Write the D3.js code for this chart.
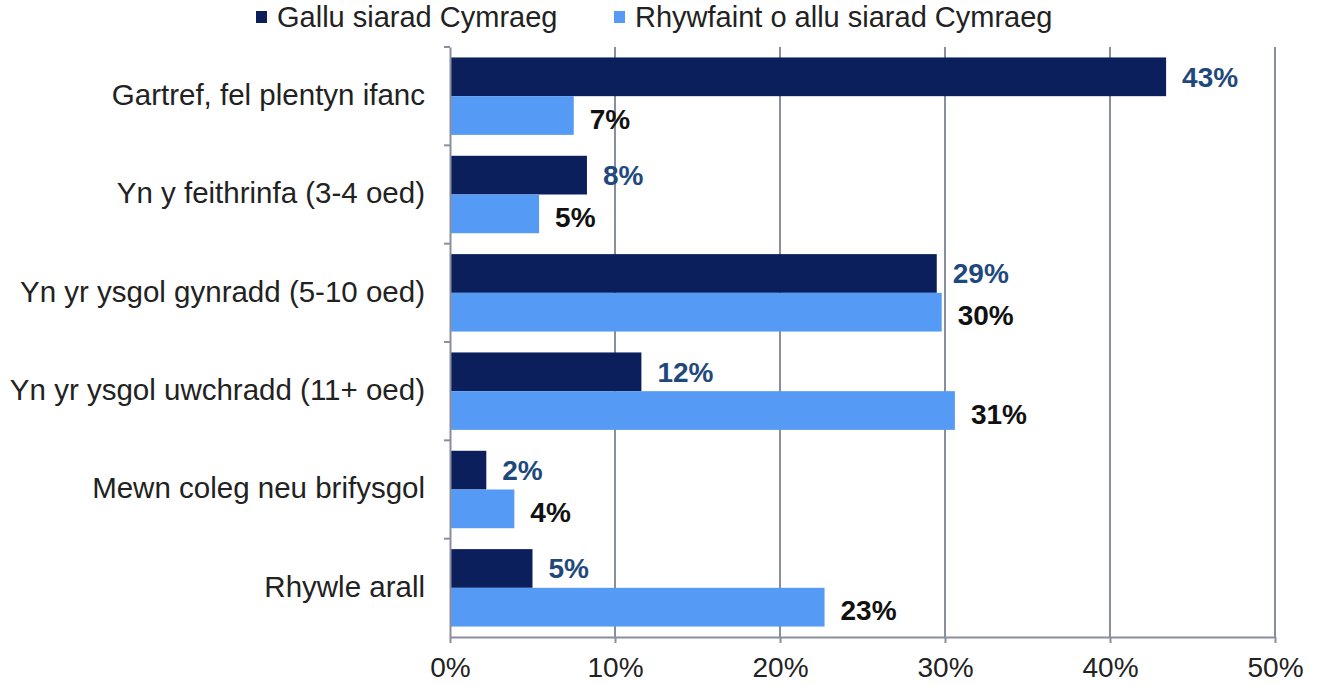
<!DOCTYPE html>
<html>
<head>
<meta charset="utf-8">
<script src="https://cdnjs.cloudflare.com/ajax/libs/d3/7.8.5/d3.min.js"></script>
<style>
  body { margin: 0; background: #fff; }
  text { font-family: "Liberation Sans", Arial, sans-serif; }
  .grid { stroke: #8b8e9c; stroke-width: 2; }
  .axis path, .axis line { stroke: #8b8e9c; stroke-width: 2; }
</style>
</head>
<body>
<div class="chart"></div>
<script>
const WIDTH = 1317;
const HEIGHT = 686;
const MARGIN = { top: 47, right: 42, bottom: 49, left: 450 };
const INNER_WIDTH = WIDTH - MARGIN.left - MARGIN.right;
const INNER_HEIGHT = HEIGHT - MARGIN.top - MARGIN.bottom;

// data
var categories = [
  "Gartref, fel plentyn ifanc",
  "Yn y feithrinfa (3-4 oed)",
  "Yn yr ysgol gynradd (5-10 oed)",
  "Yn yr ysgol uwchradd (11+ oed)",
  "Mewn coleg neu brifysgol",
  "Rhywle arall"
];
var seriesNames = ["Gallu siarad Cymraeg", "Rhywfaint o allu siarad Cymraeg"];
var gallu = [43.4, 8.3, 29.5, 11.6, 2.2, 5.0];
var rhywfaint = [7.5, 5.4, 29.8, 30.6, 3.9, 22.7];
var galluLabels = ["43%", "8%", "29%", "12%", "2%", "5%"];
var rhywfaintLabels = ["7%", "5%", "30%", "31%", "4%", "23%"];
var xTicks = [0, 10, 20, 30, 40, 50];

var colors = ["#0a1f5c", "#559bf6"];
var labelColors = ["#1f497d", "#111111"];

var translate = function(x, y) {
  return "translate(" + x + "," + y + ")";
};

var svg = d3.select(".chart").append("svg")
  .attr("width", WIDTH)
  .attr("height", HEIGHT);

var g = svg.append("g").attr("transform", translate(MARGIN.left, MARGIN.top));

var xScale = d3.scaleLinear().domain([0, 50]).range([0, INNER_WIDTH]);
var yScale = d3.scaleBand().domain(categories).range([0, INNER_HEIGHT]);
var ySub = d3.scaleBand().domain(seriesNames).range([0, yScale.bandwidth()]).paddingOuter(0.27);

// vertical grid
g.selectAll(".grid")
  .data(xTicks.slice(1))
  .enter().append("line")
  .classed("grid", true)
  .attr("x1", function(d) { return xScale(d); })
  .attr("x2", function(d) { return xScale(d); })
  .attr("y1", 0)
  .attr("y2", INNER_HEIGHT);

// bars
var rows = categories.map(function(c, i) {
  return { cat: c, vals: [gallu[i], rhywfaint[i]], labels: [galluLabels[i], rhywfaintLabels[i]] };
});

var group = g.selectAll(".row")
  .data(rows)
  .enter().append("g")
  .attr("transform", function(d) { return translate(0, yScale(d.cat)); });

group.selectAll("rect")
  .data(function(d) { return d.vals.map(function(v, j) { return { s: seriesNames[j], v: v, j: j }; }); })
  .enter().append("rect")
  .attr("x", 0)
  .attr("y", function(d) { return ySub(d.s); })
  .attr("width", function(d) { return xScale(d.v); })
  .attr("height", ySub.bandwidth())
  .style("fill", function(d) { return colors[d.j]; });

group.selectAll(".lbl")
  .data(function(d) { return d.vals.map(function(v, j) { return { s: seriesNames[j], v: v, j: j, t: d.labels[j] }; }); })
  .enter().append("text")
  .attr("class", "lbl")
  .attr("x", function(d) { return xScale(d.v) + 16; })
  .attr("y", function(d) { return ySub(d.s) + ySub.bandwidth() / 2 + (d.j == 0 ? 10 : 13); })
  .style("font-size", "28px")
  .style("font-weight", "bold")
  .style("fill", function(d) { return labelColors[d.j]; })
  .text(function(d) { return d.t; });

// axes
var xAxis = d3.axisBottom(xScale)
  .tickValues(xTicks)
  .tickSize(6)
  .tickSizeOuter(0)
  .tickPadding(14)
  .tickFormat(function(d) { return d + "%"; });

var yAxis = d3.axisLeft(yScale)
  .tickSize(0)
  .tickSizeOuter(0)
  .tickPadding(25);

var gx = g.append("g")
  .classed("axis", true)
  .attr("transform", translate(0, INNER_HEIGHT))
  .call(xAxis);
gx.selectAll("text")
  .style("font-size", "28px")
  .style("fill", "#222")
  .attr("dy", "0.71em");

var gy = g.append("g")
  .classed("axis", true)
  .call(yAxis);
gy.selectAll("text")
  .style("font-size", "29.5px")
  .style("fill", "#222")
  .attr("dy", "0.3em");

// band boundary ticks on the y axis
gy.selectAll(".bound")
  .data(categories)
  .enter().append("line")
  .attr("x1", -6)
  .attr("x2", 0)
  .attr("y1", function(d) { return yScale(d); })
  .attr("y2", function(d) { return yScale(d); });

// legend
var legendX = [256, 614];
var legend = svg.selectAll(".legend")
  .data(seriesNames)
  .enter().append("g")
  .attr("transform", function(d, i) { return translate(legendX[i], 0); });

legend.append("rect")
  .attr("x", 0)
  .attr("y", 11)
  .attr("width", 11)
  .attr("height", 12)
  .style("fill", function(d, i) { return colors[i]; });

legend.append("text")
  .attr("x", 21)
  .attr("y", 27)
  .style("font-size", "29px")
  .style("fill", "#222")
  .text(function(d) { return d; });
</script>
</body>
</html>
